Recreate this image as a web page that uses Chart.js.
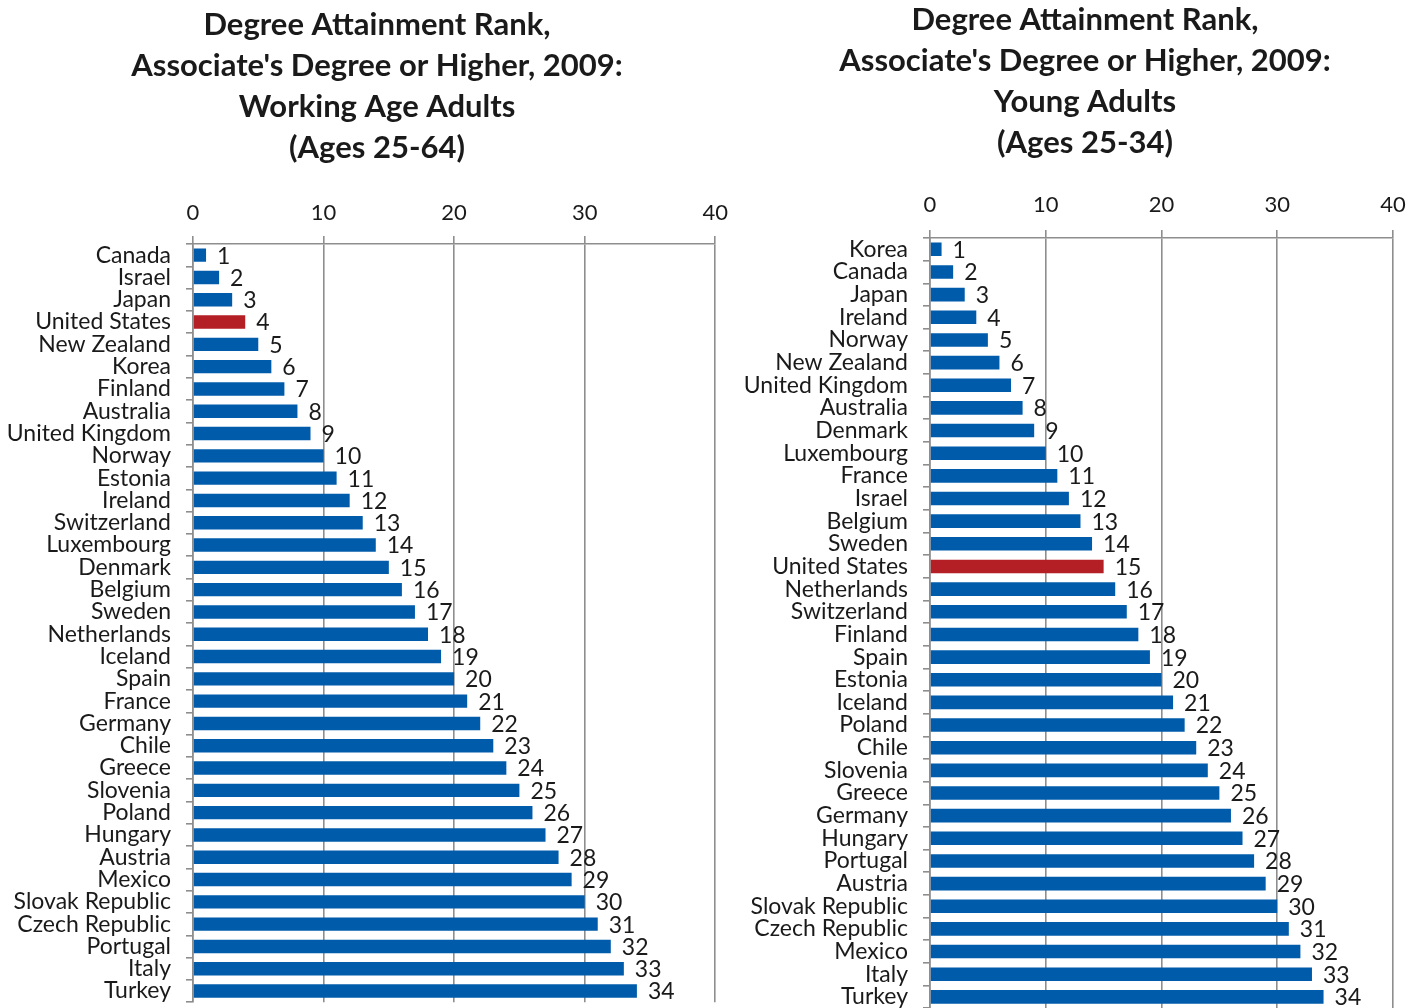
<!DOCTYPE html>
<html>
<head>
<meta charset="utf-8">
<script src="https://cdn.jsdelivr.net/npm/chart.js@4.4.1/dist/chart.umd.min.js"></script>
<style>
  html, body { margin: 0; padding: 0; background: #fff; }
  body { width: 1422px; height: 1008px; position: relative; overflow: hidden; }
  .panel { position: absolute; top: 0; }
  #left { left: 0; width: 738px; height: 1031px; }
  #right { left: 730px; width: 692px; height: 1037px; }
</style>
</head>
<body>
<div class="panel" id="left"><canvas id="cLeft"></canvas></div>
<div class="panel" id="right"><canvas id="cRight"></canvas></div>
<script>
// Working age adults (25-64): country order and OECD rank
const workingCountries = [
  'Canada', 'Israel', 'Japan', 'United States', 'New Zealand', 'Korea', 'Finland',
  'Australia', 'United Kingdom', 'Norway', 'Estonia', 'Ireland', 'Switzerland',
  'Luxembourg', 'Denmark', 'Belgium', 'Sweden', 'Netherlands', 'Iceland', 'Spain',
  'France', 'Germany', 'Chile', 'Greece', 'Slovenia', 'Poland', 'Hungary', 'Austria',
  'Mexico', 'Slovak Republic', 'Czech Republic', 'Portugal', 'Italy', 'Turkey'
];
const workingRanks = [
  1, 2, 3, 4, 5, 6, 7, 8, 9, 10, 11, 12, 13, 14, 15, 16, 17,
  18, 19, 20, 21, 22, 23, 24, 25, 26, 27, 28, 29, 30, 31, 32, 33, 34
];

// Young adults (25-34): country order and OECD rank
const youngCountries = [
  'Korea', 'Canada', 'Japan', 'Ireland', 'Norway', 'New Zealand', 'United Kingdom',
  'Australia', 'Denmark', 'Luxembourg', 'France', 'Israel', 'Belgium', 'Sweden',
  'United States', 'Netherlands', 'Switzerland', 'Finland', 'Spain', 'Estonia',
  'Iceland', 'Poland', 'Chile', 'Slovenia', 'Greece', 'Germany', 'Hungary', 'Portugal',
  'Austria', 'Slovak Republic', 'Czech Republic', 'Mexico', 'Italy', 'Turkey'
];
const youngRanks = [
  1, 2, 3, 4, 5, 6, 7, 8, 9, 10, 11, 12, 13, 14, 15, 16, 17,
  18, 19, 20, 21, 22, 23, 24, 25, 26, 27, 28, 29, 30, 31, 32, 33, 34
];

const axisTicks = [0, 10, 20, 30, 40];
const highlightCountry = 'United States';

const leftTitle = ['Degree Attainment Rank,', "Associate's Degree or Higher, 2009:", 'Working Age Adults', '(Ages 25-64)'];
const rightTitle = ['Degree Attainment Rank,', "Associate's Degree or Higher, 2009:", 'Young Adults', '(Ages 25-34)'];

const BLUE = '#005BAB';
const RED = '#B41E25';
const GRID = '#8E8E8E';
const TEXT = '#1A1A1A';
const FONT = 'Lato, "Noto Sans", sans-serif';

// writes each rank just past the end of its bar
const valueLabels = {
  id: 'valueLabels',
  afterDatasetsDraw(chart) {
    const ctx = chart.ctx;
    ctx.save();
    ctx.font = '23px ' + FONT;
    ctx.fillStyle = TEXT;
    ctx.textAlign = 'left';
    ctx.textBaseline = 'middle';
    const meta = chart.getDatasetMeta(0);
    meta.data.forEach((bar, i) => {
      ctx.fillText(String(chart.data.datasets[0].data[i]), bar.x + 11, bar.y + 1);
    });
    ctx.restore();
  }
};

// multi-line heading centred on a chosen x position
const headingBlock = {
  id: 'headingBlock',
  afterDraw(chart, args, opts) {
    const ctx = chart.ctx;
    ctx.save();
    ctx.font = 'bold 31px ' + FONT;
    ctx.fillStyle = TEXT;
    ctx.textAlign = 'center';
    ctx.textBaseline = 'middle';
    opts.lines.forEach((line, i) => {
      ctx.fillText(line, opts.x, opts.y + i * opts.step);
    });
    ctx.restore();
  }
};

function makeChart(id, countries, ranks, title, cfg) {
  return new Chart(document.getElementById(id), {
    type: 'bar',
    data: {
      labels: countries,
      datasets: [{
        data: ranks,
        backgroundColor: countries.map(c => c === highlightCountry ? RED : BLUE),
        barPercentage: 0.6,
        categoryPercentage: 1.0
      }]
    },
    plugins: [valueLabels, headingBlock],
    options: {
      indexAxis: 'y',
      responsive: true,
      maintainAspectRatio: false,
      animation: false,
      layout: { padding: cfg.padding },
      plugins: {
        legend: { display: false },
        tooltip: { enabled: false },
        title: { display: false },
        headingBlock: { lines: title, x: cfg.titleX, y: cfg.titleY, step: 41 }
      },
      scales: {
        x: {
          position: 'top',
          min: axisTicks[0],
          max: axisTicks[axisTicks.length - 1],
          afterBuildTicks(scale) { scale.ticks = axisTicks.map(v => ({ value: v })); },
          afterFit(scale) { scale.height = cfg.xHeight; },
          ticks: { color: TEXT, font: { family: FONT, size: 22 }, padding: cfg.tickPad },
          grid: { color: GRID, lineWidth: 1.6, tickLength: 8, drawTicks: true },
          border: { display: true, color: GRID, width: 1.6 }
        },
        y: {
          afterFit(scale) { scale.width = cfg.yWidth; },
          ticks: { color: TEXT, font: { family: FONT, size: 23 }, padding: 15, autoSkip: false },
          grid: { display: true, drawOnChartArea: false, offset: true, color: GRID, lineWidth: 1.6, tickLength: 7 },
          border: { display: true, color: GRID, width: 1.6 }
        }
      }
    }
  });
}

makeChart('cLeft', workingCountries, workingRanks, leftTitle, {
  padding: { left: 0, right: 8, top: 0, bottom: 0 },
  titleX: 377, titleY: 25, xHeight: 244, tickPad: 10, yWidth: 193
});
makeChart('cRight', youngCountries, youngRanks, rightTitle, {
  padding: { left: 0, right: 29, top: 0, bottom: 0 },
  titleX: 355, titleY: 20, xHeight: 238, tickPad: 12, yWidth: 200
});
</script>
</body>
</html>
